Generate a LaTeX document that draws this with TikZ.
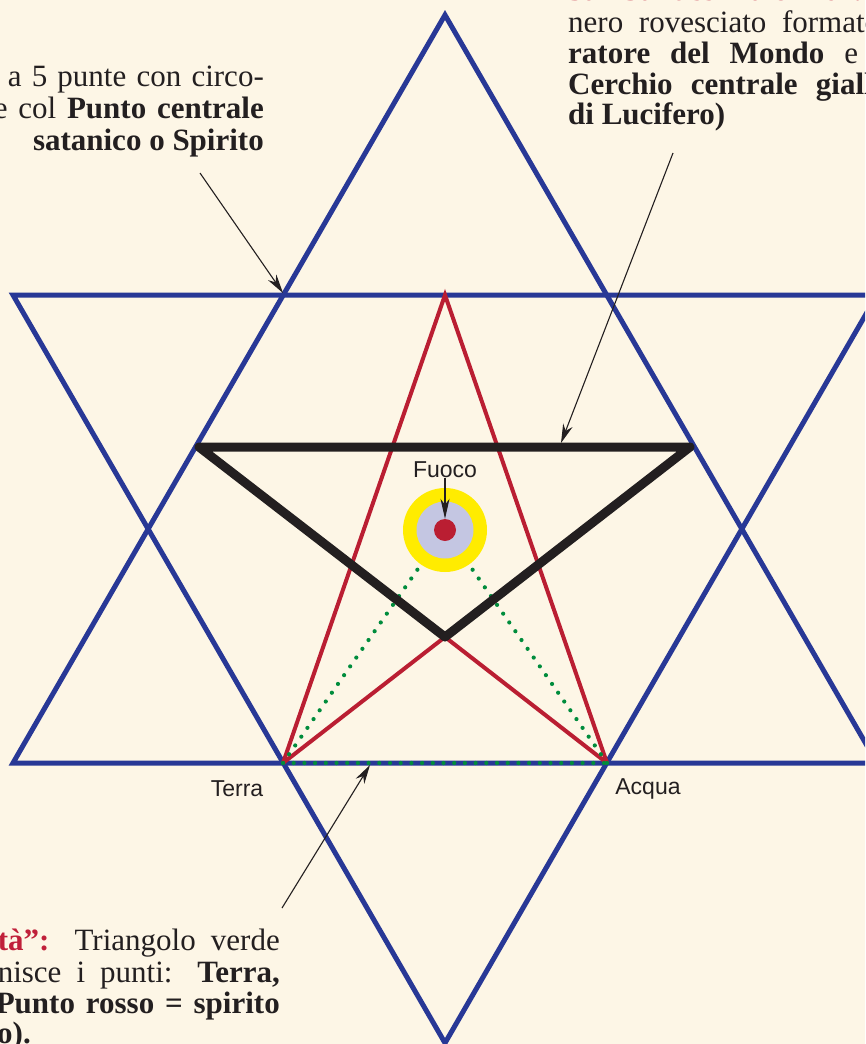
\documentclass[tikz,border=0pt]{standalone}
\usepackage{fontspec}
\setmainfont{Liberation Serif}
\newfontfamily\labelfont{Liberation Sans}
\usetikzlibrary{arrows.meta}
\definecolor{bg}{RGB}{253,246,230}
\definecolor{starblue}{RGB}{40,56,150}
\definecolor{pentred}{RGB}{186,30,50}
\definecolor{dotgreen}{RGB}{0,140,60}
\definecolor{inkblack}{RGB}{35,31,32}
\definecolor{ringyellow}{RGB}{255,236,0}
\definecolor{lavender}{RGB}{196,198,226}
\definecolor{txtred}{RGB}{192,32,58}
\tikzset{
  blueline/.style={draw=starblue, line width=5pt, line join=miter},
  redline/.style={draw=pentred, line width=4pt},
  blackline/.style={draw=inkblack, line width=9pt, line join=round},
  greendots/.style={draw=dotgreen, line width=4.2pt, line cap=round, dash pattern=on 0pt off 10.7pt},
  ptr/.style={draw=inkblack, line width=1.1pt, -{Stealth[length=19pt,width=10pt,inset=6pt]}},
  txt/.style={inner sep=0pt, font=\fontsize{31}{33}\selectfont, text=inkblack},
  lbl/.style={inner sep=0pt, font=\labelfont\fontsize{23}{26}\selectfont, text=inkblack},
}
\begin{document}
\begin{tikzpicture}[x=1pt,y=-1pt]
\useasboundingbox (0,0) rectangle (865,1044);
\clip (0,0) rectangle (865,1044);
\fill[bg] (0,0) rectangle (865,1044);

% hexagram
\coordinate (T) at (445,15);
\coordinate (UL) at (13,763);
\coordinate (UR) at (877,763);
\coordinate (DL) at (13,295);
\coordinate (DR) at (877,295);
\coordinate (B) at (445,1043);
\draw[blueline] (T) -- (UL) -- (UR) -- cycle;
\draw[blueline] (DL) -- (DR) -- (B) -- cycle;

% red figure
\coordinate (P) at (445,295);
\coordinate (Te) at (283,763);
\coordinate (Ac) at (607,763);
\coordinate (X) at (445,637);
\draw[redline] (Te) -- (P) -- (Ac);
\draw[redline] (Te) -- (X) -- (Ac);

% green dotted triangle
\coordinate (C) at (445,530);
\draw[greendots] (Te) -- (Ac);
\draw[greendots] (Te) -- (C);
\draw[greendots] (Ac) -- (C);

% black inverted triangle
\coordinate (K1) at (199,447);
\coordinate (K2) at (690,447);
\draw[blackline] (K1) -- (K2) -- (X) -- cycle;

% central circles
\node[circle, fill=ringyellow, minimum size=84pt, inner sep=0pt] (ring) at (C) {};
\node[circle, fill=lavender, minimum size=57pt, inner sep=0pt] (inner) at (C) {};
\node[circle, fill=pentred, minimum size=22pt, inner sep=0pt] (dot) at (C) {};

% labels
\node[lbl] (fuoco) at (445,470) {Fuoco};
\node[lbl] (terra) at (237,789) {Terra};
\node[lbl] (acqua) at (648,789) {Acqua};
\draw[ptr, -{Stealth[length=20pt,width=9pt,inset=6pt]}] (fuoco.south) -- (dot.north);

% pointer arrows
\coordinate (a1s) at (200,173);
\coordinate (a1e) at (283,293);
\coordinate (a2s) at (673,153);
\coordinate (a2e) at (561,443);
\coordinate (a3s) at (282,908);
\coordinate (a3e) at (370,765);
\draw[ptr] (a1s) -- (a1e);
\draw[ptr] (a2s) -- (a2e);
\draw[ptr] (a3s) -- (a3e);

% top-left text
\node[txt, anchor=base east] (tl1) at (264,86) {\makebox[256pt][s]{a 5 punte con circo-}};
\node[txt, anchor=base east] (tl2) at (264,118) {\makebox[270pt][s]{e col \textbf{Punto centrale}}};
\node[txt, anchor=base east] (tl3) at (264,150) {\textbf{satanico o Spirito}};

% top-right text
\node[txt, anchor=base west, text=txtred] (tr0) at (568,1) {\textbf{3a “Santissima e Indivisibile}};
\node[txt, anchor=base west] (tr1) at (568,32) {\makebox[312pt][s]{nero rovesciato formato}};
\node[txt, anchor=base west] (tr2) at (568,63) {\makebox[290pt][s]{\textbf{ratore del Mondo} e}};
\node[txt, anchor=base west] (tr3) at (568,94) {\makebox[320pt][s]{\textbf{Cerchio centrale giallo}}};
\node[txt, anchor=base west] (tr4) at (568,124) {\textbf{di Lucifero)}};

% bottom-left text
\node[txt, anchor=base east] (bl1) at (280,950) {\makebox[282pt][s]{\textcolor{txtred}{\textbf{tà”:}} Triangolo verde}};
\node[txt, anchor=base east] (bl2) at (280,982) {\makebox[282pt][s]{nisce i punti: \textbf{Terra,}}};
\node[txt, anchor=base east] (bl3) at (280,1013) {\makebox[284pt][s]{\textbf{Punto rosso = spirito}}};
\node[txt, anchor=base west] (bl4) at (-3,1043) {\textbf{o).}};
\end{tikzpicture}
\end{document}
